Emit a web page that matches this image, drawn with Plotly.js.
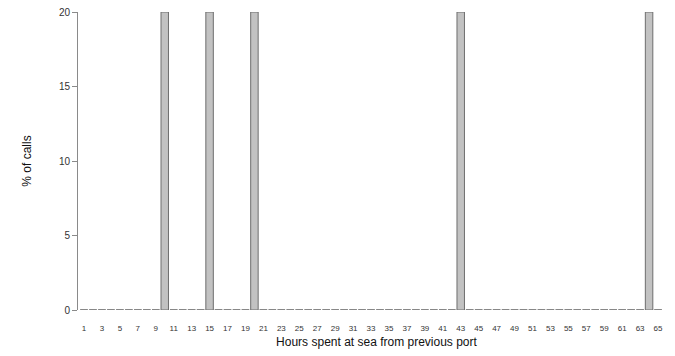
<!DOCTYPE html>
<html>
<head>
<meta charset="utf-8">
<script src="https://cdn.plot.ly/plotly-3.0.1.min.js"></script>
<style>html,body{margin:0;padding:0;background:#fff;}#chart{width:675px;height:356px;}</style>
</head>
<body>
<div id="chart"></div>
<script>
// Hours spent at sea (categories 1..65) and % of calls
var hours = [];
for (var i = 1; i <= 65; i++) hours.push(i);
var callHours = [10, 15, 20, 43, 64];
var callPercents = [20, 20, 20, 20, 20];
var percents = hours.map(function (h) {
  var k = callHours.indexOf(h);
  return k >= 0 ? callPercents[k] : 0;
});
var xTickVals = hours.filter(function (h) { return h % 2 === 1; });
var yTickVals = [0, 5, 10, 15, 20];

var barWidth = 1 / 1.2;

// zero-height bars appear as short segments along the baseline
var segX = [], segY = [];
hours.forEach(function (h, i) {
  if (percents[i] === 0) {
    segX.push(h - barWidth / 2, h + barWidth / 2, null);
    segY.push(percents[i], percents[i], null);
  }
});

var traces = [
  {
    type: 'scatter', mode: 'lines', x: segX, y: segY,
    line: {color: '#7a7a7a', width: 1}, hoverinfo: 'skip', cliponaxis: false
  },
  {
    type: 'bar', x: hours, y: percents, width: barWidth,
    marker: {color: '#c2c2c2', line: {color: '#6e6e6e', width: 1}},
    cliponaxis: false
  }
];

var layout = {
  width: 675, height: 356,
  margin: {l: 78, r: 0, t: 12, b: 46},
  paper_bgcolor: '#fff', plot_bgcolor: '#fff',
  showlegend: false,
  font: {family: 'Liberation Sans, Arial, sans-serif', color: '#222'},
  xaxis: {
    range: [0.33, 66.89],
    tickvals: xTickVals, ticktext: xTickVals.map(String),
    tickfont: {size: 8, color: '#333'},
    showline: false, showgrid: false, zeroline: false, ticks: '',
    ticklabelstandoff: 12,
    title: {text: 'Hours spent at sea from previous port', font: {size: 12, color: '#111'}, standoff: 5}
  },
  yaxis: {
    range: [0, 20],
    tickvals: yTickVals, ticktext: yTickVals.map(String),
    tickfont: {size: 10, color: '#333'},
    showline: true, linecolor: '#8a8a8a', linewidth: 1,
    ticks: 'outside', ticklen: 5, tickcolor: '#8a8a8a',
    showgrid: false, zeroline: false,
    title: {text: '% of calls', font: {size: 12, color: '#111'}, standoff: 24}
  }
};

Plotly.newPlot('chart', traces, layout, {displayModeBar: false, staticPlot: true});
</script>
</body>
</html>
